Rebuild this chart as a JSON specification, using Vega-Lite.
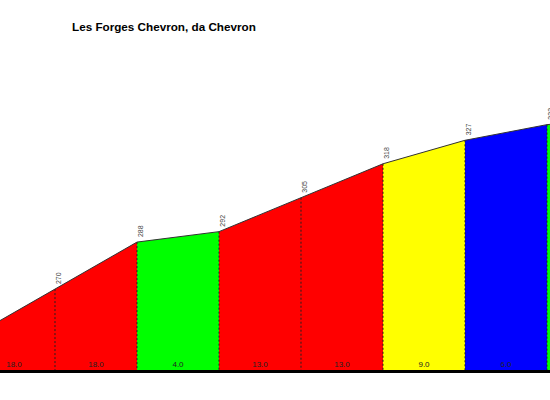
{
  "$schema": "https://vega.github.io/schema/vega-lite/v6.json",
  "width": 550,
  "height": 400,
  "padding": 0,
  "autosize": {"type": "fit", "contains": "padding"},
  "background": "white",
  "title": {
    "text": "Les Forges Chevron, da Chevron",
    "anchor": "start",
    "frame": "group",
    "orient": "top",
    "offset": -43,
    "dx": 72,
    "baseline": "alphabetic",
    "font": "Liberation Sans",
    "fontSize": 11.7,
    "fontWeight": "bold",
    "color": "#000000"
  },
  "datasets": {
    "segs": [
      {"seg": 1, "d": -100, "alt": 252, "grade": 18},
      {"seg": 1, "d": 0, "alt": 270, "grade": 18},
      {"seg": 2, "d": 0, "alt": 270, "grade": 18},
      {"seg": 2, "d": 100, "alt": 288, "grade": 18},
      {"seg": 3, "d": 100, "alt": 288, "grade": 4},
      {"seg": 3, "d": 200, "alt": 292, "grade": 4},
      {"seg": 4, "d": 200, "alt": 292, "grade": 13},
      {"seg": 4, "d": 300, "alt": 305, "grade": 13},
      {"seg": 5, "d": 300, "alt": 305, "grade": 13},
      {"seg": 5, "d": 400, "alt": 318, "grade": 13},
      {"seg": 6, "d": 400, "alt": 318, "grade": 9},
      {"seg": 6, "d": 500, "alt": 327, "grade": 9},
      {"seg": 7, "d": 500, "alt": 327, "grade": 6},
      {"seg": 7, "d": 600, "alt": 333, "grade": 6},
      {"seg": 8, "d": 600, "alt": 333, "grade": 3},
      {"seg": 8, "d": 700, "alt": 336, "grade": 3}
    ],
    "pts": [
      {"d": 0, "alt": 270},
      {"d": 100, "alt": 288},
      {"d": 200, "alt": 292},
      {"d": 300, "alt": 305},
      {"d": 400, "alt": 318},
      {"d": 500, "alt": 327},
      {"d": 600, "alt": 333}
    ],
    "grades": [
      {"mid": -50, "grade": 18},
      {"mid": 50, "grade": 18},
      {"mid": 150, "grade": 4},
      {"mid": 250, "grade": 13},
      {"mid": 350, "grade": 13},
      {"mid": 450, "grade": 9},
      {"mid": 550, "grade": 6}
    ]
  },
  "layer": [
    {
      "data": {"name": "segs"},
      "mark": {"type": "area", "clip": true, "opacity": 1},
      "encoding": {
        "x": {"field": "d", "type": "quantitative", "scale": {"domain": [-67.07, 603.66], "nice": false, "zero": false}, "axis": null},
        "y": {"field": "alt", "type": "quantitative", "scale": {"domain": [227.5, 380.75], "nice": false, "zero": false}, "axis": null},
        "y2": {"datum": 239},
        "detail": {"field": "seg", "type": "nominal"},
        "color": {
          "field": "grade",
          "type": "quantitative",
          "scale": {"type": "threshold", "domain": [5, 7, 10], "range": ["#00ff00", "#0000ff", "#ffff00", "#ff0000"]},
          "legend": null
        }
      }
    },
    {
      "data": {"name": "pts"},
      "mark": {"type": "rule", "clip": true, "color": "#222222", "strokeWidth": 1, "strokeDash": [2, 2]},
      "encoding": {
        "x": {"field": "d", "type": "quantitative"},
        "y": {"field": "alt", "type": "quantitative"},
        "y2": {"datum": 239}
      }
    },
    {
      "data": {"name": "segs"},
      "mark": {"type": "line", "clip": true, "color": "#333333", "strokeWidth": 1},
      "encoding": {
        "x": {"field": "d", "type": "quantitative"},
        "y": {"field": "alt", "type": "quantitative"},
        "detail": {"field": "seg", "type": "nominal"}
      }
    },
    {
      "data": {"name": "pts"},
      "mark": {"type": "text", "clip": true, "angle": 270, "align": "left", "baseline": "top", "dx": 5, "font": "Liberation Sans", "fontSize": 7, "color": "#444444"},
      "encoding": {
        "x": {"field": "d", "type": "quantitative"},
        "y": {"field": "alt", "type": "quantitative"},
        "text": {"field": "alt", "type": "quantitative", "format": "d"}
      }
    },
    {
      "data": {"name": "grades"},
      "mark": {"type": "text", "clip": true, "align": "center", "baseline": "bottom", "dy": -1, "font": "Liberation Sans", "fontSize": 8, "color": "#222222"},
      "encoding": {
        "x": {"field": "mid", "type": "quantitative"},
        "y": {"datum": 239, "type": "quantitative"},
        "text": {"field": "grade", "type": "quantitative", "format": ".1f"}
      }
    },
    {
      "data": {"values": [{}]},
      "mark": {"type": "rule", "clip": true, "color": "#000000", "strokeWidth": 3},
      "encoding": {
        "y": {"datum": 238.4, "type": "quantitative"}
      }
    }
  ],
  "config": {
    "view": {"stroke": null}
  }
}
